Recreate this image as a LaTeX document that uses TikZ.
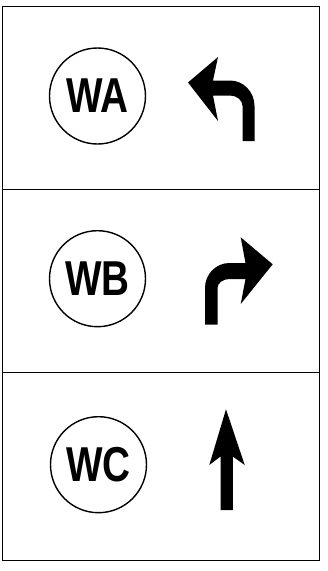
\documentclass[tikz,border=0pt]{standalone}
\usepackage{fontspec}
\setmainfont{Liberation Sans}
\begin{document}
\begin{tikzpicture}[x=1pt,y=-1pt,
  frame/.style={draw=black,line width=1.7pt},
  badge/.style={draw=black,line width=1.4pt,circle,minimum size=96pt,inner sep=0pt,
    font=\fontsize{49}{49}\selectfont\bfseries},
  turnarrow/.style={fill=black,draw=none}]
\useasboundingbox (0,0) rectangle (328,571);
\fill[white] (0,0) rectangle (328,571);
% frame and dividers
\draw[frame] (2.5,6.5) rectangle (319.5,560.5);
\coordinate (d1l) at (2.5,189.5);
\coordinate (d1r) at (319.5,189.5);
\coordinate (d2l) at (2.5,372.5);
\coordinate (d2r) at (319.5,372.5);
\draw[frame] (d1l) -- (d1r);
\draw[frame] (d2l) -- (d2r);
% badges
\node[badge] (wa) at (97.5,96) {\scalebox{0.79}[1]{WA}};
\node[badge] (wb) at (97.5,278.7) {\scalebox{0.79}[1]{WB}};
\node[badge] (wc) at (98.5,464.7) {\scalebox{0.79}[1]{WC}};
% left-turn arrow
\fill[turnarrow] (254.5,141) -- (254.5,106)
  arc[start angle=0,end angle=-90,x radius=24.5,y radius=25.5]
  -- (213,80.5) -- (218,57) -- (188,82.5) -- (218,121) -- (213,95.5)
  -- (230,95.5)
  arc[start angle=-90,end angle=0,x radius=12.5,y radius=10.5]
  -- (242.5,141) -- cycle;
% right-turn arrow
\fill[turnarrow] (205,324.5) -- (205,288)
  arc[start angle=180,end angle=270,x radius=24.5,y radius=25]
  -- (245.5,263) -- (240.7,237.3) -- (272.7,264.3) -- (240.7,304) -- (245.5,279)
  -- (229.5,279)
  arc[start angle=270,end angle=180,x radius=12,y radius=9]
  -- (217.5,324.5) -- cycle;
% straight arrow
\fill[turnarrow] (220.5,510) -- (220.5,456.5) -- (209.3,465) -- (226,409.3)
  -- (244.7,465) -- (232.8,456.5) -- (232.8,510) -- cycle;
\end{tikzpicture}
\end{document}
